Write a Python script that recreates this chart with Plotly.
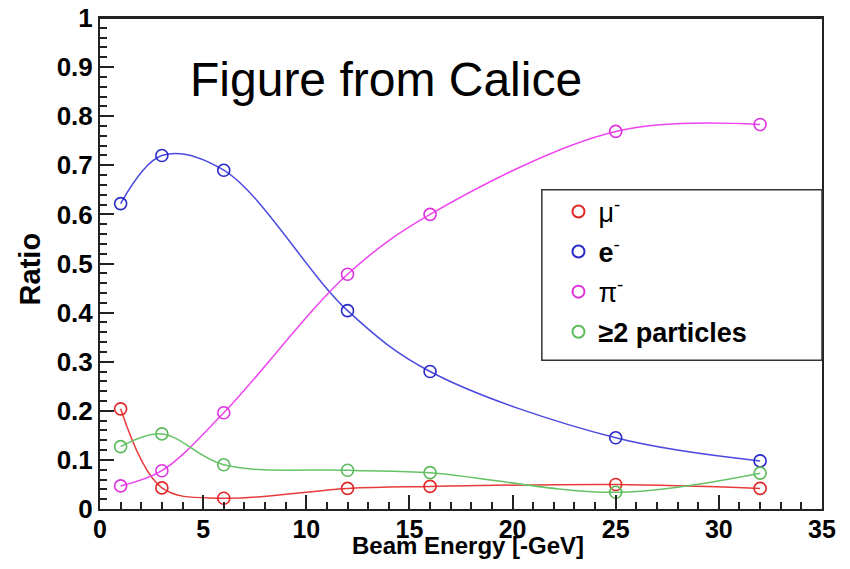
import plotly.graph_objects as go

energy = [1, 3, 6, 12, 16, 25, 32]
mu_minus = [0.204, 0.043, 0.022, 0.042, 0.046, 0.050, 0.042]
e_minus = [0.622, 0.720, 0.690, 0.404, 0.280, 0.145, 0.098]
pi_minus = [0.047, 0.078, 0.196, 0.478, 0.600, 0.769, 0.783]
two_plus = [0.127, 0.153, 0.090, 0.079, 0.074, 0.034, 0.073]

series_names = ["μ<sup>-</sup>", "<b>e</b><sup>-</sup>", "π<sup>-</sup>", "<b>≥2 particles</b>"]
series_values = [mu_minus, e_minus, pi_minus, two_plus]
line_colors = ["#e83a3a", "#4a4ae0", "#ee44ee", "#66c266"]
marker_colors = ["#e02828", "#2a2ac8", "#dd33dd", "#5cbb5c"]

y_tickvals = [0, 0.1, 0.2, 0.3, 0.4, 0.5, 0.6, 0.7, 0.8, 0.9, 1.0]
y_ticktext = ["0", "0.1", "0.2", "0.3", "0.4", "0.5", "0.6", "0.7", "0.8", "0.9", "1"]
x_tickvals = [0, 5, 10, 15, 20, 25, 30, 35]
x_ticktext = ["0", "5", "10", "15", "20", "25", "30", "35"]

FONT = "Liberation Sans, Arial, sans-serif"

fig = go.Figure()
for name, vals, lc in zip(series_names, series_values, line_colors):
    fig.add_trace(go.Scatter(x=energy, y=vals, mode="lines",
                             line=dict(color=lc, width=1.5, shape="spline", smoothing=1.0),
                             showlegend=False, hoverinfo="skip", cliponaxis=False))
for i, (name, vals, mc) in enumerate(zip(series_names, series_values, marker_colors)):
    fig.add_trace(go.Scatter(x=energy, y=vals, mode="markers", name=name,
                             legendgroup=f"g{i}",
                             marker=dict(symbol="circle-open", size=12, color=mc,
                                         line=dict(width=1.6, color=mc))))

fig.add_shape(type="rect", xref="paper", yref="paper", x0=0.612, x1=1.0, y0=0.303, y1=0.65,
              line=dict(color="#333333", width=1.5), fillcolor="rgba(0,0,0,0)", layer="above")
fig.add_shape(type="line", xref="paper", yref="paper", x0=0, x1=1.0, y0=1.0, y1=1.0,
              line=dict(color="#222222", width=2), layer="above")

fig.add_annotation(text="Figure from Calice", xref="paper", yref="paper",
                   x=0.122, y=0.875, xanchor="left", yanchor="middle", showarrow=False,
                   font=dict(family=FONT, size=48, color="black"))
fig.add_annotation(text="<b>Ratio</b>", xref="paper", yref="paper",
                   x=-0.097, y=0.49, xanchor="center", yanchor="middle", showarrow=False,
                   textangle=-90, font=dict(family=FONT, size=29, color="black"))
fig.add_annotation(text="<b>Beam Energy [-GeV]</b>", xref="paper", yref="paper",
                   x=0.51, y=-0.105, xanchor="center", yanchor="bottom", showarrow=False,
                   font=dict(family=FONT, size=24, color="black"))

fig.update_layout(
    width=834, height=553,
    margin=dict(l=92, r=20, t=10, b=52),
    paper_bgcolor="white", plot_bgcolor="white",
    font=dict(family=FONT, color="black"),
    legend=dict(x=0.635, y=0.655, xanchor="left", yanchor="top",
                bgcolor="rgba(0,0,0,0)", borderwidth=0,
                font=dict(family=FONT, size=27, color="black"),
                tracegroupgap=2, itemsizing="constant"),
    xaxis=dict(range=[0, 35], tickmode="array", tickvals=x_tickvals, ticktext=x_ticktext,
               ticks="inside", ticklen=14, tickwidth=1.5, tickcolor="#222",
               minor=dict(ticks="inside", ticklen=7, dtick=1, tickwidth=1.5, tickcolor="#222"),
               showline=True, linecolor="#222", linewidth=2, mirror=True,
               showgrid=False, zeroline=False, automargin=False, ticklabeloverflow="allow",
               ticklabelstandoff=-3,
               tickfont=dict(family=FONT, size=25, color="black", weight="bold")),
    yaxis=dict(range=[0, 1], tickmode="array", tickvals=y_tickvals, ticktext=y_ticktext,
               ticks="inside", ticklen=14, tickwidth=1.5, tickcolor="#222",
               minor=dict(ticks="inside", ticklen=7, dtick=0.02, tickwidth=1.5, tickcolor="#222"),
               showline=True, linecolor="#222", linewidth=2, mirror=True,
               showgrid=False, zeroline=False, automargin=False, ticklabeloverflow="allow",
               tickfont=dict(family=FONT, size=26, color="black", weight="bold")),
)

fig.write_html("out.html")
